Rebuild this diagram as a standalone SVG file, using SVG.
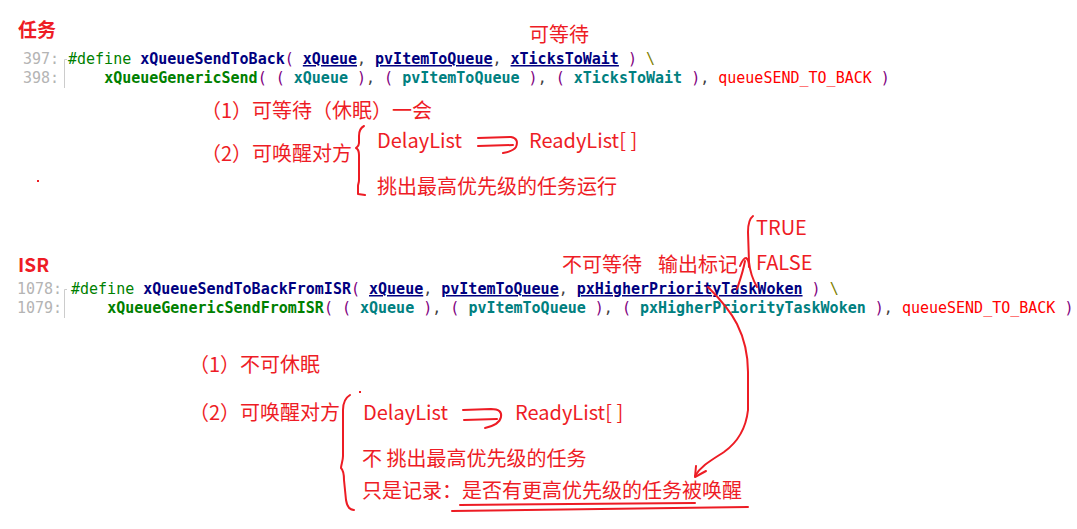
<svg xmlns="http://www.w3.org/2000/svg" width="1077" height="529" viewBox="0 0 1077 529">
<style>
.c{font-family:"DejaVu Sans Mono","Liberation Mono",monospace;font-size:15px}
.ln{fill:#b4b4b4}
.kw{fill:#008000}
.fn{fill:#000080;font-weight:bold}
.arg{fill:#000080;font-weight:bold;text-decoration:underline}
.p{fill:#800080}
.cm{fill:#404040}
.gs{fill:#008000;font-weight:bold}
.v{fill:#008080;font-weight:bold}
.k{fill:#ff0000}
.bs{fill:#808000}
.r{font-family:"Noto Sans CJK SC","Microsoft YaHei",sans-serif;font-size:20px;fill:#ee1c25}
.t{font-weight:bold;font-size:19px}
.hd{fill:none;stroke:#ed1c24;stroke-width:2;stroke-linecap:round;stroke-linejoin:round}
.fold{fill:none;stroke:#cccccc;stroke-width:1}
</style>
<rect width="1077" height="529" fill="#ffffff"/>

<g id="task-title"><text class="r t" x="18" y="37">任务</text></g>
<g id="task-wait-label"><text class="r" x="529" y="42">可等待</text></g>

<g id="task-code">
<path class="fold" d="M64.5,88 V59.5 H67"/>
<text class="c ln" x="23" y="64">397:</text>
<text class="c ln" x="23" y="83">398:</text>
<text class="c" x="68" y="64" xml:space="preserve"><tspan class="kw">#define </tspan><tspan class="fn">xQueueSendToBack</tspan><tspan class="p">(</tspan> <tspan class="arg">xQueue</tspan><tspan class="cm">,</tspan> <tspan class="arg">pvItemToQueue</tspan><tspan class="cm">,</tspan> <tspan class="arg">xTicksToWait</tspan> <tspan class="p">)</tspan> <tspan class="bs">\</tspan></text>
<text class="c" x="68" y="83" xml:space="preserve">    <tspan class="gs">xQueueGenericSend</tspan><tspan class="p">(</tspan> <tspan class="p">(</tspan> <tspan class="v">xQueue</tspan> <tspan class="p">)</tspan><tspan class="cm">,</tspan> <tspan class="p">(</tspan> <tspan class="v">pvItemToQueue</tspan> <tspan class="p">)</tspan><tspan class="cm">,</tspan> <tspan class="p">(</tspan> <tspan class="v">xTicksToWait</tspan> <tspan class="p">)</tspan><tspan class="cm">,</tspan> <tspan class="k">queueSEND_TO_BACK</tspan> <tspan class="p">)</tspan></text>
</g>

<g id="task-point1"><text class="r" x="201" y="118">（1）可等待（休眠）一会</text></g>
<g id="task-point2"><text class="r" x="201" y="161">（2）可唤醒对方</text></g>
<g id="task-delaylist"><text class="r" x="377" y="148">DelayList</text></g>
<g id="task-readylist"><text class="r" x="529" y="148">ReadyList[ ]</text></g>
<g id="task-run"><text class="r" x="377" y="194">挑出最高优先级的任务运行</text></g>

<g id="isr-title"><text class="r t" x="18" y="272">ISR</text></g>
<g id="isr-nowait"><text class="r" x="562" y="272">不可等待</text></g>
<g id="isr-flag"><text class="r" x="658" y="272">输出标记</text></g>
<g id="isr-true"><text class="r" x="756" y="235">TRUE</text></g>
<g id="isr-false"><text class="r" x="756" y="270">FALSE</text></g>

<g id="isr-code">
<path class="fold" d="M64.5,318 V289.5 H67"/>
<text class="c ln" x="17" y="294">1078:</text>
<text class="c ln" x="17" y="313">1079:</text>
<text class="c" x="71" y="294" xml:space="preserve"><tspan class="kw">#define </tspan><tspan class="fn">xQueueSendToBackFromISR</tspan><tspan class="p">(</tspan> <tspan class="arg">xQueue</tspan><tspan class="cm">,</tspan> <tspan class="arg">pvItemToQueue</tspan><tspan class="cm">,</tspan> <tspan class="arg">pxHigherPriorityTaskWoken</tspan> <tspan class="p">)</tspan> <tspan class="bs">\</tspan></text>
<text class="c" x="71" y="313" xml:space="preserve">    <tspan class="gs">xQueueGenericSendFromISR</tspan><tspan class="p">(</tspan> <tspan class="p">(</tspan> <tspan class="v">xQueue</tspan> <tspan class="p">)</tspan><tspan class="cm">,</tspan> <tspan class="p">(</tspan> <tspan class="v">pvItemToQueue</tspan> <tspan class="p">)</tspan><tspan class="cm">,</tspan> <tspan class="p">(</tspan> <tspan class="v">pxHigherPriorityTaskWoken</tspan> <tspan class="p">)</tspan><tspan class="cm">,</tspan> <tspan class="k">queueSEND_TO_BACK</tspan> <tspan class="p">)</tspan></text>
</g>

<g id="isr-point1"><text class="r" x="189" y="372">（1）不可休眠</text></g>
<g id="isr-point2"><text class="r" x="189" y="420">（2）可唤醒对方</text></g>
<g id="isr-delaylist"><text class="r" x="363" y="420">DelayList</text></g>
<g id="isr-readylist"><text class="r" x="515" y="420">ReadyList[ ]</text></g>
<g id="isr-norun"><text class="r" x="362" y="466">不 挑出最高优先级的任务</text></g>
<g id="isr-record"><text class="r" x="362" y="498">只是记录：是否有更高优先级的任务被唤醒</text></g>

<g id="connectors">
<!-- task brace -->
<path class="hd" d="M364,126 C360,128 359,131 359,136 L359,143 C359,146 357,147 356,148 C358,149 359,151 359,155 L359,180 C359,183 358,184 358,186 L358,194 L365,195"/>
<!-- task double arrow -->
<path class="hd" d="M478,138 L511,137 C517,138 518,142 516,147 C514,150 509,152 503,153"/>
<path class="hd" d="M478,146 L513,145"/>
<!-- isr brace -->
<path class="hd" d="M350,395 C345,398 343,402 343,410 L343,456 C343,461 341,465 341,468 C343,470 344,474 344,480 L346,500 C347,506 349,510 354,510"/>
<rect x="359" y="391" width="2" height="2" fill="#ed1c24"/>
<!-- isr double arrow -->
<path class="hd" d="M463,410 L491,409 C499,409 502,412 501,417 C500,422 494,426 485,428"/>
<path class="hd" d="M464,420 L497,419"/>
<!-- TRUE/FALSE bracket -->
<path class="hd" d="M753,216 C749,219 748,224 748,232 L749,262 C750,272 753,280 757,287"/>
<!-- flag arrow up -->
<path class="hd" d="M737,289 C740,280 743,272 745,261"/>
<path class="hd" d="M740,266 C742,261 744,258 746,258 C748,259 749,262 749,267"/>
<!-- big curve to 被唤醒 -->
<path class="hd" d="M708,287 C718,297 730,310 737,324 C744,338 748,352 748,372 L748,410 C746,428 738,442 724,452 C710,461 701,466 695,476"/>
<path class="hd" d="M696,466 L695,477 L706,471"/>
<!-- underlines -->
<path class="hd" d="M460,505 L695,503"/>
<path class="hd" d="M452,511 C560,510 660,509 748,507"/>
<!-- stray dot -->
<rect x="37" y="180" width="2" height="2" fill="#ed1c24"/>
</g>
</svg>
